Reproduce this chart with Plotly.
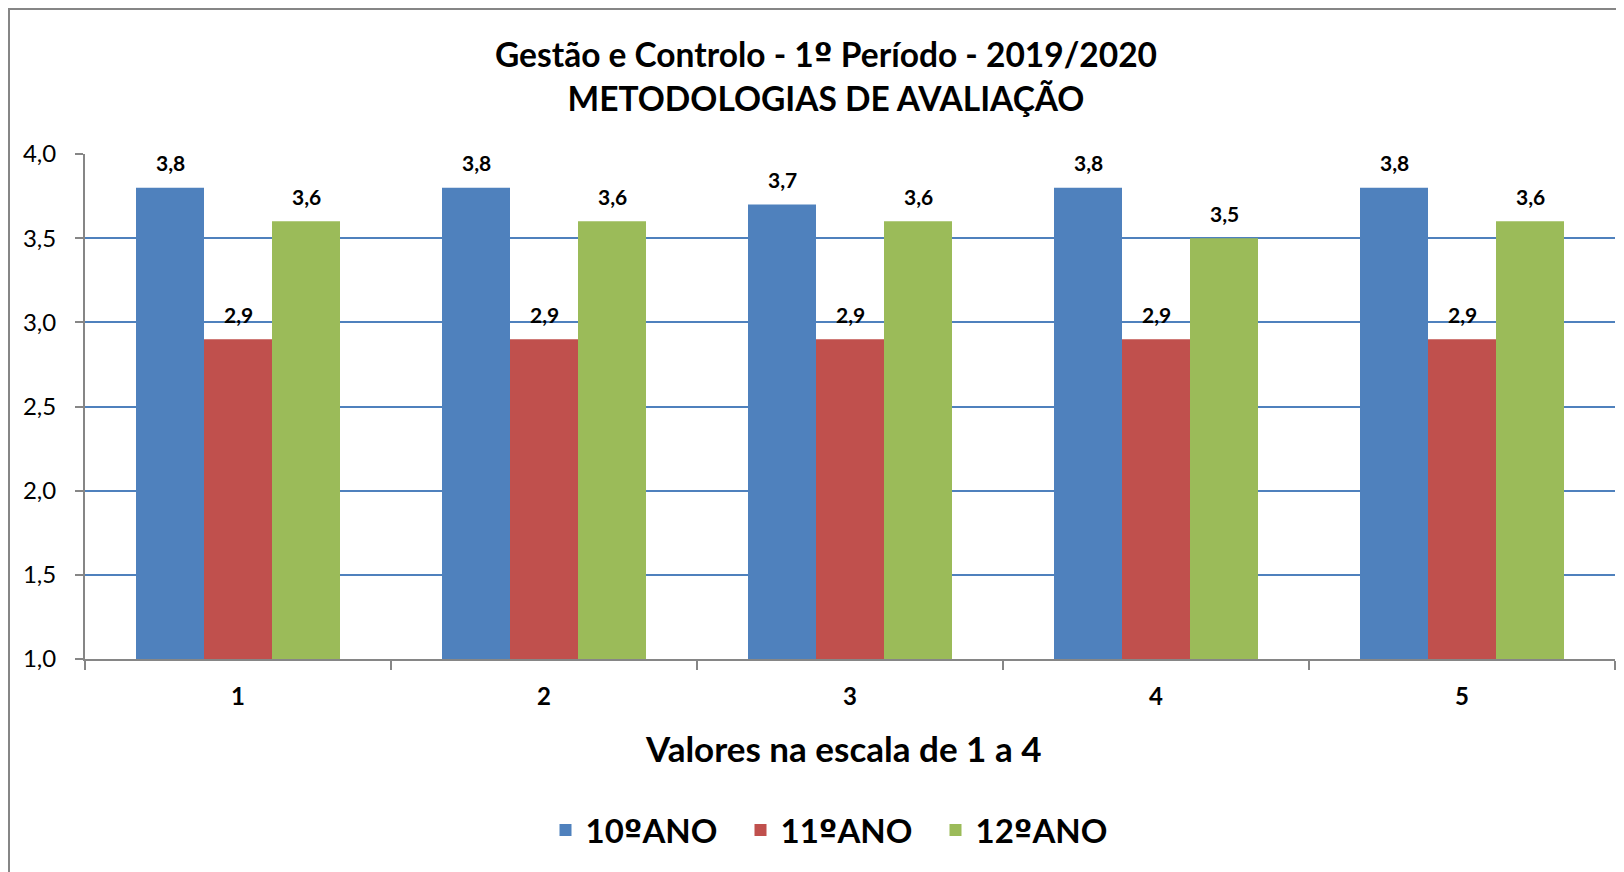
import plotly.graph_objects as go

categories = ["1", "2", "3", "4", "5"]
series_names = ["10ºANO", "11ºANO", "12ºANO"]
ano10 = [3.8, 3.8, 3.7, 3.8, 3.8]
ano11 = [2.9, 2.9, 2.9, 2.9, 2.9]
ano12 = [3.6, 3.6, 3.6, 3.5, 3.6]
colors = ["#4F81BD", "#C0504D", "#9BBB59"]

FONT = "Lato"
ORD = "<span style=\"font-family:'DejaVu Sans'\">º</span>"


def fix(s):
    return s.replace("º", ORD)


# the page body adds an 8px margin, so the figure is 8px smaller
W, H = 1616, 864
L, R, T, B = 77, 9, 146, 213
pw, ph = W - L - R, H - T - B
CX = 818  # centre of chart title (figure px)

fig = go.Figure()
all_series = [ano10, ano11, ano12]
for name, vals, col in zip(series_names, all_series, colors):
    fig.add_trace(go.Bar(x=categories, y=vals, name=fix(name), marker_color=col,
                         marker_line_width=0))

bargap = 1/3
bw = (1 - bargap) / 3
annotations = []
for k, vals in enumerate(all_series):
    for i, v in enumerate(vals):
        annotations.append(dict(
            x=i + (k - 1) * bw, y=v, xref="x", yref="y",
            text=f"{v:.1f}".replace(".", ","), showarrow=False,
            yanchor="middle", yshift=25,
            font=dict(family=FONT, size=21, color="black", weight="bold")))

annotations.append(dict(
    x=(835 - L) / pw, y=(T + ph - 740) / ph, xref="paper", yref="paper",
    text="<b>Valores na escala de 1 a 4</b>", showarrow=False,
    xanchor="center", yanchor="middle",
    font=dict(family=FONT, size=35, color="black")))

fig.update_layout(
    width=W, height=H,
    margin=dict(l=L, r=R, t=T, b=B),
    paper_bgcolor="white", plot_bgcolor="white",
    separators=",.",
    barmode="group", bargap=bargap, bargroupgap=0,
    title=dict(text="<b>" + fix("Gestão e Controlo - 1º Período - 2019/2020") +
               "<br>METODOLOGIAS DE AVALIAÇÃO</b>",
               x=CX / W, xref="container", xanchor="center",
               y=1 - 59 / H, yref="container", yanchor="middle",
               font=dict(family=FONT, size=33.5, color="black")),
    legend=dict(orientation="h", x=(830 - L) / pw, xanchor="center",
                y=(T + ph - 822) / ph, yanchor="middle",
                font=dict(family=FONT, size=33, color="black", weight="bold"),
                itemwidth=30, tracegroupgap=0,
                entrywidth=150, entrywidthmode="pixels"),
    annotations=annotations,
    shapes=[dict(type="rect", xref="paper", yref="paper",
                 x0=(1 - L) / pw, x1=1.05, y0=-0.5, y1=(T + ph - 1) / ph,
                 line=dict(color="#868686", width=2), layer="below")],
    showlegend=True,
)

fig.update_xaxes(type="category", showline=True, linecolor="#868686", linewidth=2,
                 ticks="outside", tickson="boundaries", ticklen=9, tickcolor="#868686",
                 tickwidth=2, showgrid=False, ticklabelstandoff=15,
                 tickfont=dict(family=FONT, size=24, color="black", weight="bold"))
fig.update_yaxes(range=[1, 4], dtick=0.5, tick0=1, tickformat=".1f",
                 showline=True, linecolor="#868686", linewidth=2,
                 ticks="outside", ticklen=8, tickcolor="#868686", tickwidth=2,
                 showgrid=True, gridcolor="#4F81BD", gridwidth=1.5,
                 zeroline=False, ticklabelstandoff=14,
                 tickfont=dict(family=FONT, size=24, color="black"))

fig.write_html("out.html")
